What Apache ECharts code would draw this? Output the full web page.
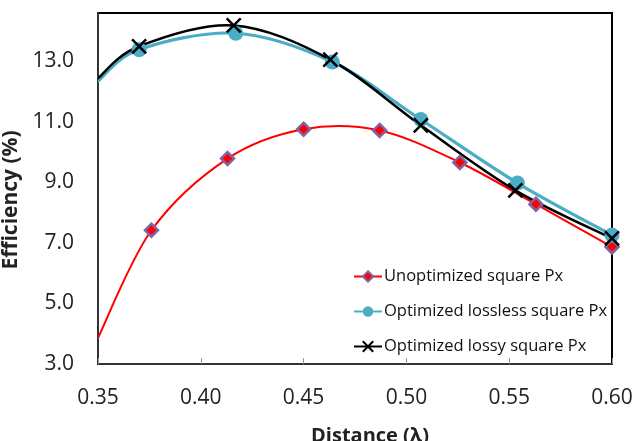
<!DOCTYPE html>
<html>
<head>
<meta charset="utf-8">
<script src="https://cdn.jsdelivr.net/npm/echarts@6/dist/echarts.min.js"></script>
<style>
  html, body { margin: 0; padding: 0; background: #fff; }
  #chart { width: 637px; height: 441px; }
</style>
</head>
<body>
<div id="chart"></div>
<script>
(function () {
    'use strict';

    // Distance (lambda) and efficiency (%)
    const unoptX = [0.35, 0.376, 0.413, 0.450, 0.487, 0.526, 0.563, 0.600];
    const unoptY = [3.86, 7.42, 9.79, 10.76, 10.72, 9.66, 8.28, 6.87];

    const losslessX = [0.35, 0.370, 0.417, 0.464, 0.507, 0.554, 0.600];
    const losslessY = [12.35, 13.39, 13.93, 12.98, 11.08, 8.98, 7.26];

    const lossyX = [0.35, 0.370, 0.416, 0.463, 0.507, 0.553, 0.600];
    const lossyY = [12.44, 13.50, 14.19, 13.06, 10.89, 8.74, 7.15];

    const seriesNames = [
        'Unoptimized square Px',
        'Optimized lossless square Px',
        'Optimized lossy square Px'
    ];

    const font = '"Open Sans", "Liberation Sans", sans-serif';
    const crossPath = 'path://M0,0L10,10M10,0L0,10';

    // first point sits on the axis edge, drawn without a marker
    function toPoints (xs, ys) {
        return xs.map((x, i) => {
            const p = { value: [x, ys[i]] };
            if (i === 0) {
                p.symbol = 'none';
            }
            return p;
        });
    }

    // Excel-like smoothed line: Catmull-Rom segments as bezier curves
    function curveSeries (xs, ys, color, width) {
        return {
            type: 'custom',
            silent: true,
            clip: true,
            encode: { x: 0, y: 1 },
            data: xs.map((x, i) => [x, ys[i]]),
            renderItem: function (params, api) {
                if (params.dataIndex !== 0) {
                    return null;
                }
                const pts = xs.map((x, i) => api.coord([x, ys[i]]));
                const children = [];
                for (let i = 0; i < pts.length - 1; i++) {
                    const p0 = pts[i - 1] || pts[i];
                    const p1 = pts[i];
                    const p2 = pts[i + 1];
                    const p3 = pts[i + 2] || pts[i + 1];
                    children.push({
                        type: 'bezierCurve',
                        shape: {
                            x1: p1[0], y1: p1[1],
                            x2: p2[0], y2: p2[1],
                            cpx1: p1[0] + (p2[0] - p0[0]) / 6,
                            cpy1: p1[1] + (p2[1] - p0[1]) / 6,
                            cpx2: p2[0] - (p3[0] - p1[0]) / 6,
                            cpy2: p2[1] - (p3[1] - p1[1]) / 6
                        },
                        style: { fill: 'none', stroke: color, lineWidth: width, lineCap: 'round' }
                    });
                }
                return { type: 'group', children: children };
            }
        };
    }

    const chart = echarts.init(document.getElementById('chart'), null, { renderer: 'canvas' });

    chart.setOption({
        animation: false,
        backgroundColor: '#fff',
        grid: {
            left: 98, right: 25, top: 13, bottom: 77,
            outerBoundsMode: 'none',
            containLabel: false,
            show: true, borderColor: '#000', borderWidth: 2
        },
        legend: {
            orient: 'vertical',
            left: 348,
            top: 263,
            itemWidth: 28,
            itemHeight: 13,
            itemGap: 18,
            data: seriesNames.map(n => ({ name: n, lineStyle: { opacity: 1 } })),
            textStyle: { fontFamily: font, fontSize: 16.5, color: '#111', padding: [0, 0, 0, -3] }
        },
        xAxis: {
            type: 'value',
            min: 0.35, max: 0.6, interval: 0.05,
            name: 'Distance (λ)',
            nameLocation: 'middle',
            nameGap: 62,
            nameTextStyle: { fontFamily: font, fontSize: 20, fontWeight: 'bold', color: '#222', padding: [0, 0, 0, 30] },
            axisLine: { show: true, lineStyle: { color: '#333', width: 2 } },
            axisTick: { show: true, inside: true, length: 6, lineStyle: { color: '#999' } },
            axisLabel: {
                fontFamily: font, fontSize: 21, color: '#222', margin: 24,
                formatter: v => v.toFixed(2)
            },
            splitLine: { show: false }
        },
        yAxis: {
            type: 'value',
            min: 3, max: 14.6, interval: 2,
            name: 'Efficiency (%)',
            nameLocation: 'middle',
            nameGap: 67,
            nameTextStyle: { fontFamily: font, fontSize: 21, fontWeight: 'bold', color: '#222', padding: [0, 23, 0, 0] },
            axisLine: { show: true, lineStyle: { color: '#333', width: 2 } },
            axisTick: { show: false },
            axisLabel: {
                fontFamily: font, fontSize: 21, color: '#222', margin: 24,
                showMaxLabel: false,
                formatter: v => v.toFixed(1)
            },
            splitLine: { show: false }
        },
        series: [
            curveSeries(unoptX, unoptY, '#ff0000', 2),
            {
                name: seriesNames[0],
                type: 'line',
                symbol: 'diamond',
                symbolSize: 13,
                lineStyle: { color: '#ff0000', width: 2, opacity: 0 },
                itemStyle: { color: '#ff0000', borderColor: '#8064a2', borderWidth: 2.5 },
                data: toPoints(unoptX, unoptY)
            },
            curveSeries(losslessX, losslessY, '#4bacc6', 3.2),
            {
                name: seriesNames[1],
                type: 'line',
                symbol: 'circle',
                symbolSize: 15,
                lineStyle: { color: '#4bacc6', width: 3.2, opacity: 0 },
                itemStyle: { color: '#4bacc6', borderWidth: 0 },
                data: toPoints(losslessX, losslessY)
            },
            curveSeries(lossyX, lossyY, '#000', 2.5),
            {
                name: seriesNames[2],
                type: 'line',
                symbol: crossPath,
                symbolSize: 14,
                lineStyle: { color: '#000', width: 2.5, opacity: 0 },
                itemStyle: { color: 'rgba(0,0,0,0)', borderColor: '#000', borderWidth: 2.5 },
                data: toPoints(lossyX, lossyY)
            }
        ]
    });
}());
</script>
</body>
</html>
